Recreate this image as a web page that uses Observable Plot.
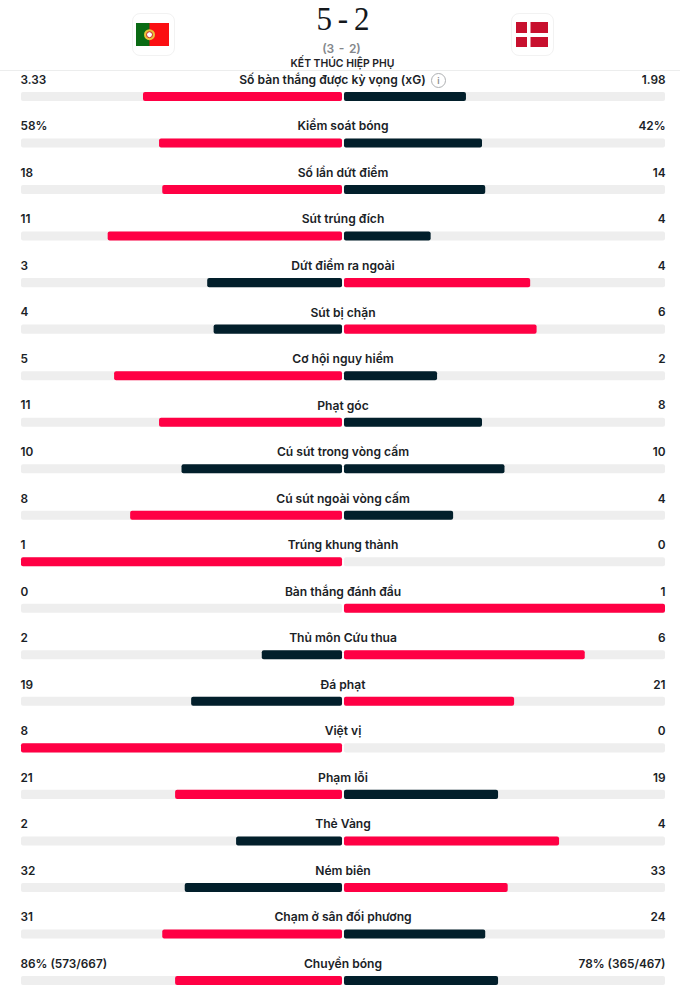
<!DOCTYPE html>
<html><head><meta charset="utf-8">
<script src="https://cdn.jsdelivr.net/npm/d3@7"></script>
<script src="https://cdn.jsdelivr.net/npm/@observablehq/plot@0.6"></script>
<style>
html,body{margin:0;padding:0;background:#fff;width:680px;overflow:hidden}
body{position:relative;font-family:Inter,sans-serif;color:#222226}
#head{position:relative;height:70px;border-bottom:1px solid #eceded;box-sizing:content-box;text-align:center}
#score{position:absolute;left:6px;right:0;top:1px;font:31px/36px "Liberation Serif",serif;color:#14181c;word-spacing:-2px;transform:scaleY(1.12)}
#agg{position:absolute;left:3px;right:0;top:42px;font:600 12px/14px Inter,sans-serif;color:#84878b;word-spacing:1.5px}
#status{position:absolute;left:5px;right:0;top:57px;font:600 10.4px/14px Inter,sans-serif;color:#222226}
.tile{position:absolute;top:13px;width:43px;height:43px;border:1px solid #f2f2f2;border-radius:8px;box-sizing:border-box}
.tile svg{position:absolute;left:3px;top:3px}
#info{position:absolute;left:431px;top:73px;width:15px;height:15px;border:1px solid #aeb0b2;border-radius:50%;box-sizing:border-box;font:600 9px/13px Inter,sans-serif;text-align:center;color:#8b8d90}
svg{display:block}
</style></head><body>
<div id="head">
<div class="tile" style="left:132px"><svg width="35" height="35" viewBox="0 0 35 35"><rect x="0" y="6" width="14" height="23" fill="#0a6a14"/><rect x="13.5" y="6" width="19.5" height="23" fill="#fb0f12"/><circle cx="13.5" cy="17.7" r="5.5" fill="#e8c43a"/><circle cx="13.5" cy="17.7" r="3" fill="#fff" stroke="#c81f1f"/></svg></div>
<div class="tile" style="left:511px"><svg width="35" height="35" viewBox="0 0 35 35"><rect x="1" y="5" width="32" height="25" fill="#c8102e"/><rect x="1" y="16" width="32" height="4" fill="#fff"/><rect x="12" y="5" width="3.5" height="25" fill="#fff"/></svg></div>
<div id="score">5 - 2</div>
<div id="agg">(3 - 2)</div>
<div id="status">KẾT THÚC HIỆP PHỤ</div>
</div>
<div id="chart"></div>
<div id="info">i</div>
<script>
const labels=["Số bàn thắng được kỳ vọng (xG)","Kiểm soát bóng","Số lần dứt điểm","Sút trúng đích","Dứt điểm ra ngoài","Sút bị chặn","Cơ hội nguy hiểm","Phạt góc","Cú sút trong vòng cấm","Cú sút ngoài vòng cấm","Trúng khung thành","Bàn thắng đánh đầu","Thủ môn Cứu thua","Đá phạt","Việt vị","Phạm lỗi","Thẻ Vàng","Ném biên","Chạm ở sân đối phương","Chuyền bóng"];
const homeText=["3.33","58%","18","11","3","4","5","11","10","8","1","0","2","19","8","21","2","32","31","86% (573/667)"];
const awayText=["1.98","42%","14","4","4","6","2","8","10","4","0","1","6","21","0","19","4","33","24","78% (365/467)"];
// bar lengths as a share of the half-track
const homeShare=[.62,.57,.56,.73,.42,.40,.71,.57,.50,.66,1,0,.25,.47,1,.52,.33,.49,.56,.52];
const awayShare=[.38,.43,.44,.27,.58,.60,.29,.43,.50,.34,0,1,.75,.53,0,.48,.67,.51,.44,.48];
const homeColor=["#ff0044","#ff0044","#ff0044","#ff0044","#021f2b","#021f2b","#ff0044","#ff0044","#021f2b","#ff0044","#ff0044","#021f2b","#021f2b","#021f2b","#ff0044","#ff0044","#021f2b","#021f2b","#ff0044","#ff0044"];
const awayColor=["#021f2b","#021f2b","#021f2b","#021f2b","#ff0044","#ff0044","#021f2b","#021f2b","#021f2b","#021f2b","#ff0044","#ff0044","#ff0044","#ff0044","#ff0044","#021f2b","#ff0044","#ff0044","#021f2b","#021f2b"];
const rows=labels.map((label,i)=>({label,home:homeText[i],away:awayText[i],hs:homeShare[i],as:awayShare[i],hc:homeColor[i],ac:awayColor[i]}));
const gap=0.003;
const reach=s=>gap+s*(1-gap);
const font={fontFamily:"Inter, sans-serif",fontSize:12.1,fontWeight:600,fill:"#1a2226"};
const valueFont={...font,fontSize:11.8};
const chart=Plot.plot({
  width:680,height:915,
  marginTop:0,marginBottom:0,marginLeft:0,marginRight:0,
  x:{domain:[-1,1],range:[21,665],axis:null},
  y:{type:"band",domain:labels,range:[21,914],paddingInner:.806,paddingOuter:0,round:false,axis:null},
  marks:[
    Plot.barX(rows,{x1:-1,x2:-gap,y:"label",fill:"#eeeeee",rx:2}),
    Plot.barX(rows,{x1:gap,x2:1,y:"label",fill:"#eeeeee",rx:2}),
    Plot.barX(rows.filter(d=>d.hs>0),{x1:d=>-reach(d.hs),x2:-gap,y:"label",fill:"hc",rx:2}),
    Plot.barX(rows.filter(d=>d.as>0),{x1:gap,x2:d=>reach(d.as),y:"label",fill:"ac",rx:2}),
    Plot.text(rows.slice(0,1),{x:0,y:"label",text:"label",dy:-17,dx:-11,textAnchor:"middle",...font}),
    Plot.text(rows.slice(1),{x:0,y:"label",text:"label",dy:-17,dx:-0.5,textAnchor:"middle",...font}),
    Plot.text(rows,{x:-1,y:"label",text:"home",dy:-17,dx:-1,textAnchor:"start",...valueFont}),
    Plot.text(rows,{x:1,y:"label",text:"away",dy:-17,textAnchor:"end",...valueFont})
  ]
});
document.getElementById("chart").appendChild(chart);
</script>
</body></html>
